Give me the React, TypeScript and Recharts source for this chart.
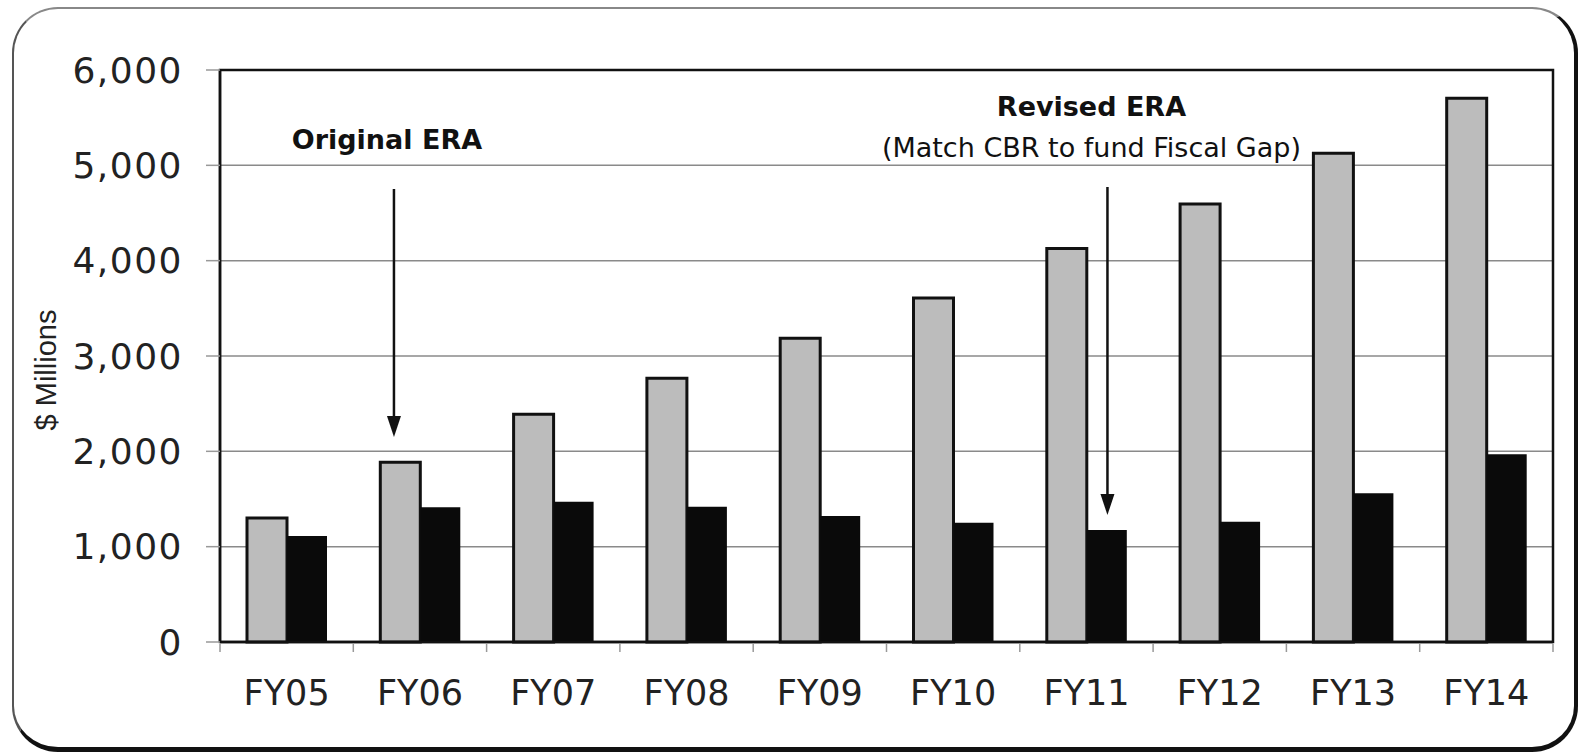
import React from 'react';
import { BarChart, Bar, XAxis, YAxis, CartesianGrid, ReferenceLine, ReferenceArea } from 'recharts';

const years = ['FY05', 'FY06', 'FY07', 'FY08', 'FY09', 'FY10', 'FY11', 'FY12', 'FY13', 'FY14'];
const grayValues = [1300, 1885, 2388, 2766, 3186, 3608, 4128, 4595, 5126, 5703];
const blackValues = [1112, 1413, 1472, 1419, 1322, 1252, 1175, 1262, 1560, 1969];
const yTicks = [0, 1000, 2000, 3000, 4000, 5000, 6000];

const data = years.map((year, i) => ({ year, gap: grayValues[i], cbr: blackValues[i] }));

const FONT = '"DejaVu Sans", Verdana, sans-serif';

// arrow drawn from a reference segment, shifted sideways by dx, with text above it
const arrowShape = (dx: number, lines: { text: string; dy: number; dxText: number; bold?: boolean }[]) =>
  (props: any) => {
    const x = props.x1 + dx;
    const top = Math.min(props.y1, props.y2);
    const tip = Math.max(props.y1, props.y2);
    return (
      <g>
        <line x1={x} y1={top} x2={x} y2={tip - 16} stroke="#111" strokeWidth={2.5} />
        <polygon points={`${x - 7},${tip - 21} ${x + 7},${tip - 21} ${x},${tip}`} fill="#111" />
        {lines.map((l) => (
          <text
            key={l.text}
            x={x + l.dxText}
            y={top + l.dy}
            textAnchor="middle"
            fontFamily={FONT}
            fontSize={27}
            fontWeight={l.bold ? 'bold' : 'normal'}
            fill="#111"
          >
            {l.text}
          </text>
        ))}
      </g>
    );
  };

// small tick below the x axis at a category boundary
const boundaryTick = (props: any) => {
  const bottom = Math.max(props.y1, props.y2);
  return <line x1={props.x1} y1={bottom + 2} x2={props.x1} y2={bottom + 10} stroke="#999" strokeWidth={1.5} />;
};

export default function App() {
  return (
    <div style={{ position: 'fixed', left: 0, top: 0, width: 1579, height: 753, overflow: 'hidden', background: '#fff' }}>
      <div
        style={{
          position: 'absolute',
          left: 12,
          top: 7,
          width: 1566,
          height: 745,
          boxSizing: 'border-box',
          borderTop: '2px solid #888',
          borderLeft: '2px solid #555',
          borderRight: '4px solid #111',
          borderBottom: '5px solid #111',
          borderRadius: 46,
        }}
      />
      <div style={{ position: 'absolute', left: 0, top: 0 }}>
        <BarChart
          width={1579}
          height={753}
          data={data}
          margin={{ top: 70, right: 26, left: 60, bottom: 41 }}
          barGap={0}
          barSize={40}
        >
          <CartesianGrid vertical={false} stroke="#8a8a8a" strokeWidth={1.5} />
          <XAxis
            dataKey="year"
            height={70}
            tickLine={false}
            tickSize={8}
            tickMargin={30}
            axisLine={{ stroke: '#111', strokeWidth: 2.5 }}
            tick={{ fontFamily: FONT, fontSize: 35, fill: '#222' }}
            interval={0}
          />
          <YAxis
            width={160}
            domain={[0, 6000]}
            ticks={yTicks}
            interval={0}
            tickFormatter={(v: number) => v.toLocaleString('en-US')}
            tick={{ fontFamily: FONT, fontSize: 36, fill: '#222', letterSpacing: 1.5 }}
            tickSize={14}
            tickMargin={23}
            tickLine={{ stroke: '#999', strokeWidth: 1.5 }}
            axisLine={{ stroke: '#111', strokeWidth: 2.5 }}
            label={{
              content: () => (
                <text
                  x={56}
                  y={370}
                  transform="rotate(-90 56 370)"
                  textAnchor="middle"
                  fontFamily='"Liberation Sans", Arial, sans-serif'
                  fontSize={29}
                  fill="#222"
                >
                  $ Millions
                </text>
              ),
            }}
          />
          <ReferenceArea y1={0} y2={6000} fill="none" stroke="#111" strokeWidth={2.5} ifOverflow="visible" />
          <Bar dataKey="gap" fill="#bcbcbc" stroke="#111" strokeWidth={3} isAnimationActive={false} />
          <Bar dataKey="cbr" fill="#0a0a0a" isAnimationActive={false} />
          {years.map((y) => (
            <ReferenceLine key={y} x={y} position="start" stroke="none" ifOverflow="visible" shape={boundaryTick} />
          ))}
          <ReferenceLine
            x="FY14"
            position="end"
            stroke="none"
            ifOverflow="visible"
            shape={boundaryTick}
          />
          <ReferenceLine
            segment={[{ x: 'FY06', y: 4752 }, { x: 'FY06', y: 2150 }]}
            ifOverflow="visible"
            shape={arrowShape(-26, [{ text: 'Original ERA', dy: -40, dxText: -7, bold: true }])}
          />
          <ReferenceLine
            segment={[{ x: 'FY11', y: 4773 }, { x: 'FY11', y: 1332 }]}
            ifOverflow="visible"
            shape={arrowShape(21, [
              { text: 'Revised ERA', dy: -71, dxText: -16, bold: true },
              { text: '(Match CBR to fund Fiscal Gap)', dy: -30, dxText: -16 },
            ])}
          />
        </BarChart>
      </div>
    </div>
  );
}
